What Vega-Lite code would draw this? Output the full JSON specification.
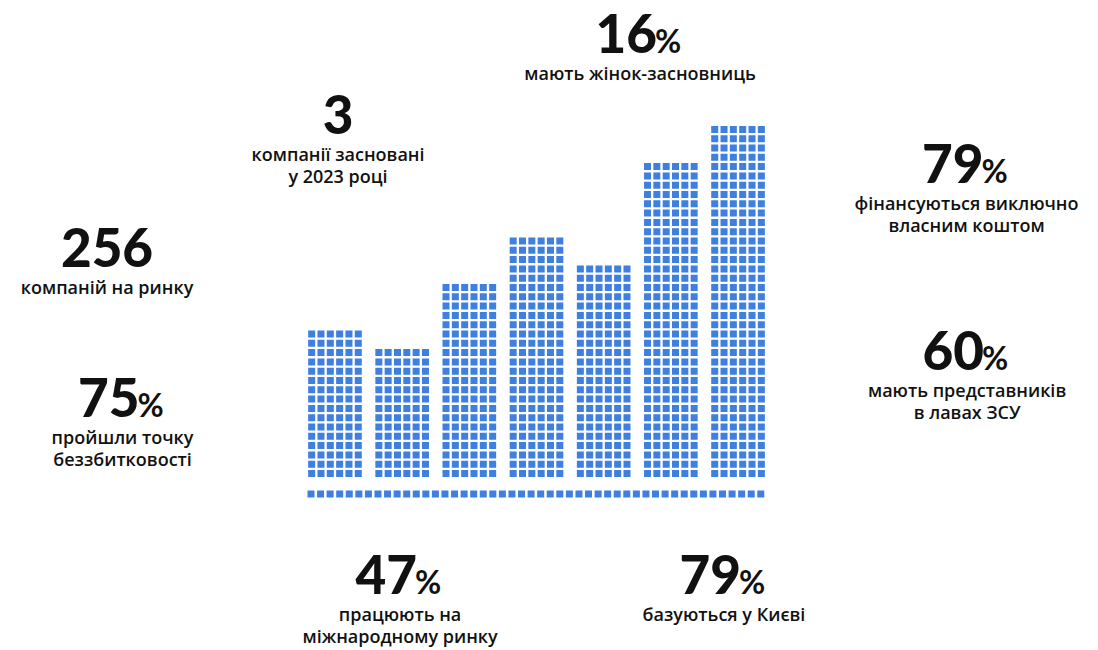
{
  "$schema": "https://vega.github.io/schema/vega-lite/v6.json",
  "width": 1098,
  "height": 650,
  "autosize": {"type": "fit", "contains": "padding"},
  "padding": 0,
  "background": "#ffffff",
  "config": {"view": {"stroke": null}},
  "datasets": {
    "columns": [
      {"bar": "1", "col": "1", "n": 16}, {"bar": "1", "col": "2", "n": 16}, {"bar": "1", "col": "3", "n": 16},
      {"bar": "1", "col": "4", "n": 16}, {"bar": "1", "col": "5", "n": 16}, {"bar": "1", "col": "6", "n": 16},
      {"bar": "2", "col": "1", "n": 14}, {"bar": "2", "col": "2", "n": 14}, {"bar": "2", "col": "3", "n": 14},
      {"bar": "2", "col": "4", "n": 14}, {"bar": "2", "col": "5", "n": 14}, {"bar": "2", "col": "6", "n": 14},
      {"bar": "3", "col": "1", "n": 21}, {"bar": "3", "col": "2", "n": 21}, {"bar": "3", "col": "3", "n": 21},
      {"bar": "3", "col": "4", "n": 21}, {"bar": "3", "col": "5", "n": 21}, {"bar": "3", "col": "6", "n": 21},
      {"bar": "4", "col": "1", "n": 26}, {"bar": "4", "col": "2", "n": 26}, {"bar": "4", "col": "3", "n": 26},
      {"bar": "4", "col": "4", "n": 26}, {"bar": "4", "col": "5", "n": 26}, {"bar": "4", "col": "6", "n": 26},
      {"bar": "5", "col": "1", "n": 23}, {"bar": "5", "col": "2", "n": 23}, {"bar": "5", "col": "3", "n": 23},
      {"bar": "5", "col": "4", "n": 23}, {"bar": "5", "col": "5", "n": 23}, {"bar": "5", "col": "6", "n": 23},
      {"bar": "6", "col": "1", "n": 34}, {"bar": "6", "col": "2", "n": 34}, {"bar": "6", "col": "3", "n": 34},
      {"bar": "6", "col": "4", "n": 34}, {"bar": "6", "col": "5", "n": 34}, {"bar": "6", "col": "6", "n": 34},
      {"bar": "7", "col": "1", "n": 38}, {"bar": "7", "col": "2", "n": 38}, {"bar": "7", "col": "3", "n": 38},
      {"bar": "7", "col": "4", "n": 38}, {"bar": "7", "col": "5", "n": 38}, {"bar": "7", "col": "6", "n": 38}
    ],
    "stats": [
      {"value": "256", "unit": "", "label": "компаній на ринку", "gx": -20.9, "gy": 22.83},
      {"value": "75", "unit": "%", "label": "пройшли точку\nбеззбитковості", "gx": -19.28, "gy": 6.7},
      {"value": "3", "unit": "", "label": "компанії засновані\nу 2023 році", "gx": 3.24, "gy": 37.13},
      {"value": "16", "unit": "%", "label": "мають жінок-засновниць", "gx": 34.8, "gy": 45.8},
      {"value": "79", "unit": "%", "label": "фінансуються виключно\nвласним коштом", "gx": 68.91, "gy": 31.86},
      {"value": "60", "unit": "%", "label": "мають представників\nв лавах ЗСУ", "gx": 68.97, "gy": 11.76},
      {"value": "47", "unit": "%", "label": "працюють на\nміжнародному ринку", "gx": 9.72, "gy": -12.33},
      {"value": "79", "unit": "%", "label": "базуються у Києві", "gx": 43.57, "gy": -12.33}
    ]
  },
  "layer": [
    {
      "data": {"name": "columns"},
      "mark": {"type": "rule", "strokeWidth": 7, "strokeDash": [7, 2.3], "color": "#3f7fe0"},
      "encoding": {
        "x": {
          "field": "bar", "type": "nominal", "sort": null,
          "scale": {"range": [307, 766], "paddingInner": 0.167, "paddingOuter": 0},
          "axis": {"title": null, "labels": false, "ticks": false, "grid": false,
                   "domainColor": "#3f7fe0", "domainWidth": 7, "domainDash": [7, 2.57], "offset": -156.5}
        },
        "xOffset": {"field": "col", "type": "nominal", "scale": {"paddingInner": 0, "paddingOuter": 0}},
        "y": {"field": "n", "type": "quantitative", "scale": {"domain": [-18.355, 51.537], "nice": false, "zero": false}, "axis": null},
        "y2": {"datum": 0}
      }
    },
    {
      "data": {"name": "stats"},
      "encoding": {
        "x": {"field": "gx", "type": "quantitative", "scale": {"domain": [-32.08, 82.65], "nice": false, "zero": false}, "axis": null},
        "y": {"field": "gy", "type": "quantitative", "axis": null}
      },
      "layer": [
        {
          "transform": [{"filter": "datum.unit === '%'"}],
          "mark": {"type": "text", "align": "right", "baseline": "alphabetic", "dx": 17, "font": "Lato", "fontSize": 53, "fontWeight": 900, "color": "#111111"},
          "encoding": {"text": {"field": "value"}}
        },
        {
          "transform": [{"filter": "datum.unit === '%'"}],
          "mark": {"type": "text", "align": "left", "baseline": "alphabetic", "dx": 15, "font": "Lato", "fontSize": 32, "fontWeight": "bold", "color": "#111111"},
          "encoding": {"text": {"field": "unit"}}
        },
        {
          "transform": [{"filter": "datum.unit === ''"}],
          "mark": {"type": "text", "align": "center", "baseline": "alphabetic", "font": "Lato", "fontSize": 53, "fontWeight": 900, "color": "#111111"},
          "encoding": {"text": {"field": "value"}}
        },
        {
          "mark": {"type": "text", "align": "center", "baseline": "alphabetic", "dy": 27, "lineBreak": "\n", "lineHeight": 22, "font": "Open Sans", "fontSize": 18, "fontWeight": 600, "color": "#111111"},
          "encoding": {"text": {"field": "label"}}
        }
      ]
    }
  ],
  "resolve": {"scale": {"x": "independent"}}
}
